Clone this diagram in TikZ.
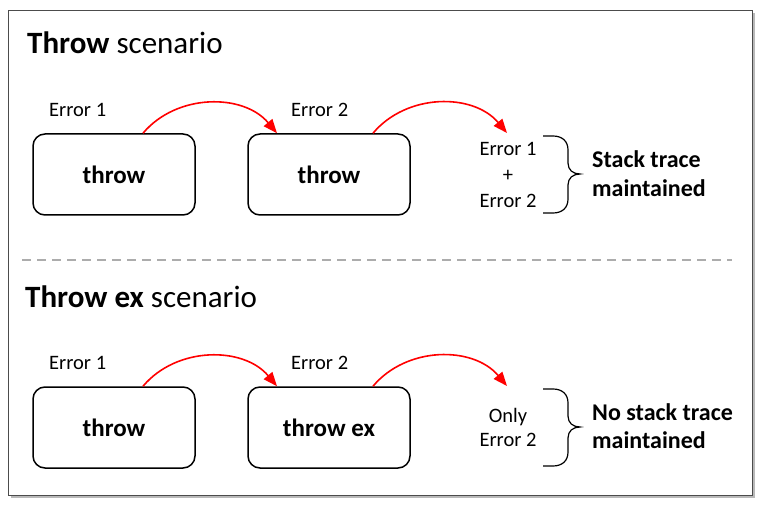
\documentclass[tikz,border=0pt]{standalone}
\usepackage{fontspec}
\setmainfont{Carlito}
\usetikzlibrary{arrows.meta,positioning}

\begin{document}
\begin{tikzpicture}[x=1pt,y=1pt,
            block/.style={draw,line width=1.5pt,rounded corners=12pt,minimum width=162pt,minimum height=81pt,
                font=\fontsize{25}{30}\selectfont\bfseries},
            heading/.style={font=\fontsize{31}{37}\selectfont,inner sep=0pt,anchor=base west},
            errlabel/.style={font=\fontsize{20.5}{26}\selectfont,inner sep=0pt,anchor=base west},
            result/.style={align=center,inner sep=0pt},
            verdict/.style={align=left,inner sep=0pt,anchor=west},
            pass/.style={red,line width=1.6pt,-{Triangle[length=14pt,width=11pt]},bend left=50},
            rbrace/.pic={
                \draw[line width=1.2pt] (0,0) -- (10,0) .. controls (19,0) and (25,-5) .. (25,-14) -- (25,-27)
                    .. controls (25,-34) and (30,-38) .. (37,-38) .. controls (30,-38) and (25,-42) .. (25,-49)
                    -- (25,-63) .. controls (25,-72) and (19,-77) .. (10,-77) -- (0,-77);
            }]

            \useasboundingbox (0,0) rectangle (760,-505);

            % frame with shadow
            \fill[gray!55] (11,-13) rectangle (755,-498);
            \draw[fill=white,draw=black!70,line width=0.8pt] (8,-10) rectangle (752,-495);

            % throw scenario
            \node[heading] (title1) at (27,-54) {\textbf{Throw} scenario};
            \node[block] (box1a) at (114,-174.5) {throw};
            \node[block] (box1b) at (329,-174.5) {throw};
            \node[errlabel] (err1a) at (49,-117) {Error 1};
            \node[errlabel] (err1b) at (291,-117) {Error 2};
            \coordinate (end1) at (507,-133);
            \node[result,font=\fontsize{20.5}{26}\selectfont] (res1) at (508,-175) {Error 1\\+\\Error 2};
            \pic at (543,-136) {rbrace};
            \node[verdict,font=\fontsize{24}{29.5}\selectfont\bfseries] (side1) at (592,-173.5) {Stack trace\\maintained};

            \draw[pass] ([xshift=29pt]box1a.north) to ([xshift=-52pt]box1b.north);
            \draw[pass] ([xshift=44pt]box1b.north) to (end1);

            % divider
            \draw[gray!65,line width=1.5pt,dash pattern=on 9pt off 6pt] (22,-260) coordinate (divl) -- (732,-260) coordinate (divr);

            % throw ex scenario
            \node[heading] (title2) at (25,-307) {\textbf{Throw ex} scenario};
            \node[block] (box2a) at (114,-427.5) {throw};
            \node[block] (box2b) at (329,-427.5) {throw ex};
            \node[errlabel] (err2a) at (49,-369) {Error 1};
            \node[errlabel] (err2b) at (291,-369) {Error 2};
            \coordinate (end2) at (507,-386);
            \node[result,font=\fontsize{20.5}{24}\selectfont] (res2) at (508,-427.5) {Only\\Error 2};
            \pic at (543,-389) {rbrace};
            \node[verdict,font=\fontsize{24}{27.5}\selectfont\bfseries] (side2) at (592,-426) {No stack trace\\maintained};

            \draw[pass] ([xshift=29pt]box2a.north) to ([xshift=-52pt]box2b.north);
            \draw[pass] ([xshift=44pt]box2b.north) to (end2);
        \end{tikzpicture}
\end{document}
